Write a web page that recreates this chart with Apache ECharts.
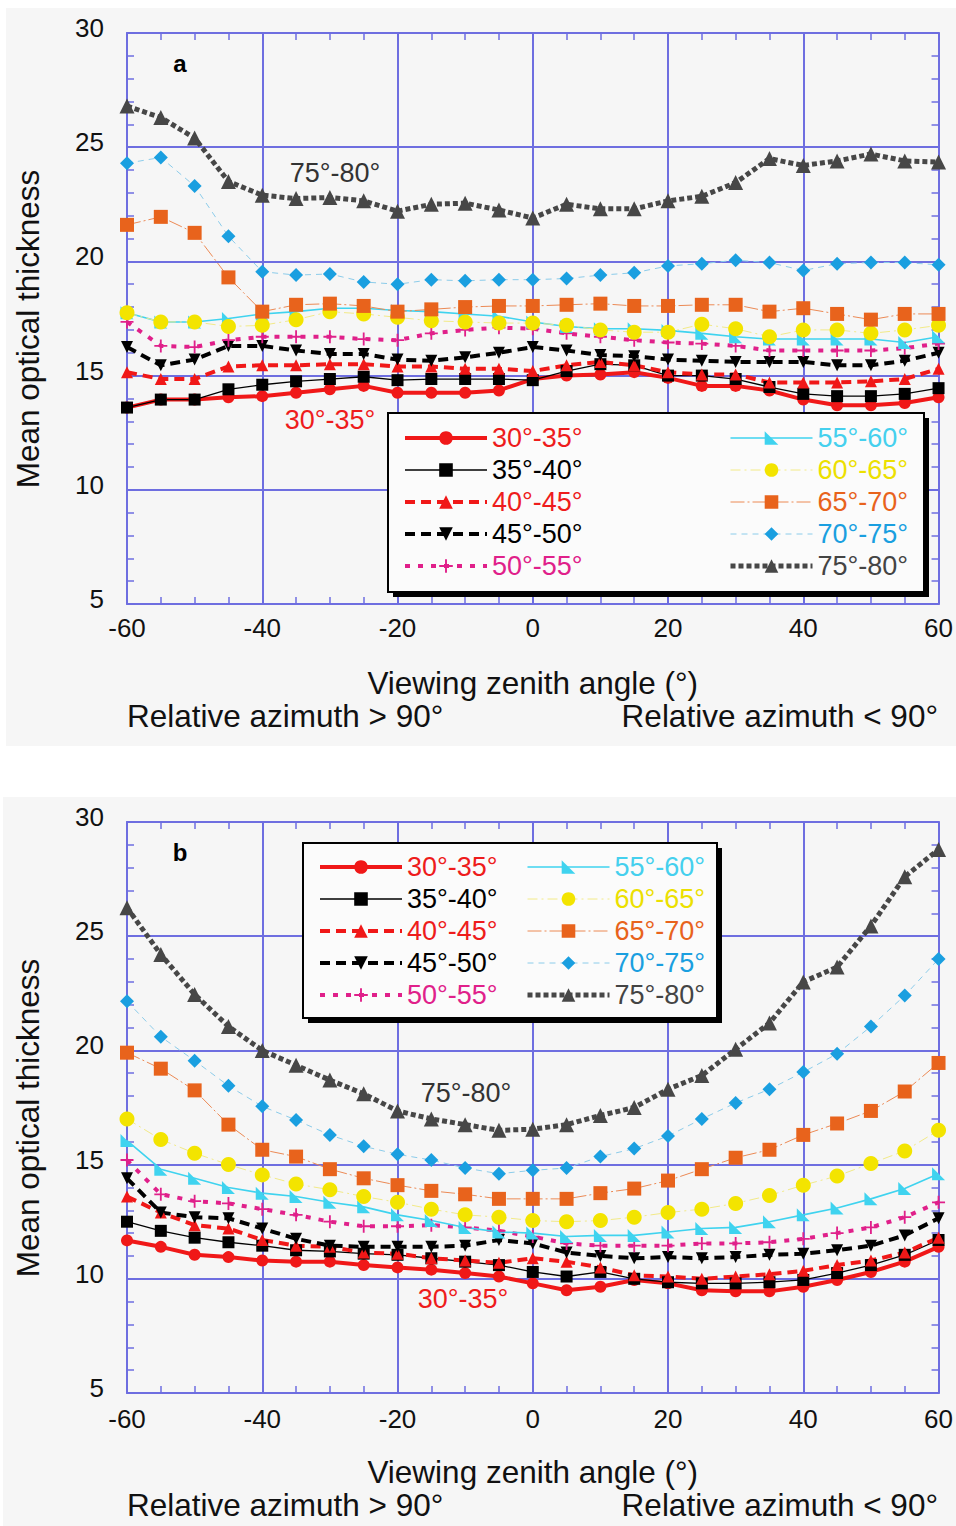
<!DOCTYPE html>
<html>
<head>
<meta charset="utf-8">
<script src="https://cdn.jsdelivr.net/npm/echarts@6/dist/echarts.min.js"></script>
<style>
  html, body { margin: 0; padding: 0; background: #ffffff; }
  #chart { width: 956px; height: 1526px; }
</style>
</head>
<body>
<div id="chart"></div>
<script>
// Viewing zenith angle, negative = relative azimuth > 90°, positive = < 90°
const angles = [-60, -55, -50, -45, -40, -35, -30, -25, -20, -15, -10, -5, 0,
                5, 10, 15, 20, 25, 30, 35, 40, 45, 50, 55, 60];

// Solar zenith angle classes
const bandNames = ['30°-35°', '35°-40°', '40°-45°', '45°-50°', '50°-55°',
                   '55°-60°', '60°-65°', '65°-70°', '70°-75°', '75°-80°'];

// Axis ticks
const xTicks = [-60, -40, -20, 0, 20, 40, 60];
const yTicks = [5, 10, 15, 20, 25, 30];

// Panel a: mean optical thickness per class
const a30 = [13.6, 13.95, 13.95, 14.05, 14.1, 14.25, 14.4, 14.55, 14.25, 14.25, 14.25, 14.35, 14.85,
             15.0, 15.05, 15.15, 14.9, 14.55, 14.55, 14.35, 13.95, 13.7, 13.7, 13.8, 14.05];
const a35 = [13.6, 13.95, 13.95, 14.4, 14.6, 14.75, 14.85, 14.95, 14.8, 14.85, 14.85, 14.85, 14.8,
             15.2, 15.5, 15.45, 15.0, 15.0, 14.85, 14.5, 14.2, 14.1, 14.1, 14.2, 14.45];
const a40 = [15.15, 14.85, 14.85, 15.4, 15.45, 15.45, 15.5, 15.5, 15.4, 15.4, 15.3, 15.3, 15.2,
             15.45, 15.6, 15.45, 15.15, 15.05, 15.05, 14.7, 14.7, 14.7, 14.75, 14.85, 15.3];
const a45 = [16.25, 15.45, 15.7, 16.3, 16.3, 16.1, 15.95, 15.95, 15.7, 15.65, 15.8, 16.0, 16.25,
             16.1, 15.9, 15.85, 15.7, 15.65, 15.6, 15.6, 15.6, 15.45, 15.45, 15.65, 16.0];
const a50 = [17.35, 16.3, 16.25, 16.55, 16.7, 16.7, 16.7, 16.6, 16.55, 16.85, 17.0, 17.1, 17.05,
             16.85, 16.7, 16.55, 16.45, 16.4, 16.3, 16.1, 16.1, 16.1, 16.1, 16.2, 16.4];
const a55 = [17.75, 17.35, 17.35, 17.5, 17.7, 17.8, 17.95, 17.95, 17.85, 17.8, 17.7, 17.6, 17.35,
             17.15, 17.05, 17.05, 16.98, 16.85, 16.7, 16.6, 16.6, 16.6, 16.6, 16.45, 16.7];
const a60 = [17.75, 17.35, 17.35, 17.15, 17.2, 17.45, 17.8, 17.7, 17.55, 17.4, 17.35, 17.3, 17.3,
             17.2, 17.0, 16.9, 16.9, 17.25, 17.05, 16.7, 17.0, 17.0, 16.85, 17.0, 17.2];
const a65 = [21.6, 21.95, 21.25, 19.3, 17.8, 18.1, 18.15, 18.05, 17.8, 17.9, 18.0, 18.05, 18.05,
             18.1, 18.15, 18.05, 18.05, 18.1, 18.1, 17.8, 17.95, 17.7, 17.45, 17.7, 17.7];
const a70 = [24.3, 24.55, 23.3, 21.1, 19.55, 19.4, 19.45, 19.1, 19.0, 19.2, 19.15, 19.2, 19.2,
             19.25, 19.4, 19.5, 19.8, 19.9, 20.05, 19.95, 19.6, 19.9, 19.95, 19.95, 19.85];
const a75 = [26.8, 26.3, 25.4, 23.5, 22.9, 22.75, 22.8, 22.65, 22.2, 22.5, 22.55, 22.25, 21.9,
             22.5, 22.3, 22.3, 22.65, 22.85, 23.45, 24.5, 24.2, 24.4, 24.7, 24.4, 24.35];

// Panel b: mean optical thickness per class
const b30 = [11.68, 11.4, 11.05, 10.95, 10.8, 10.75, 10.75, 10.6, 10.5, 10.4, 10.25, 10.1, 9.8,
             9.5, 9.65, 9.95, 9.8, 9.5, 9.45, 9.45, 9.65, 9.95, 10.3, 10.75, 11.4];
const b35 = [12.5, 12.1, 11.8, 11.6, 11.45, 11.25, 11.2, 11.1, 11.05, 10.9, 10.75, 10.6, 10.3,
             10.1, 10.3, 10.0, 9.85, 9.8, 9.8, 9.85, 9.95, 10.25, 10.6, 11.05, 11.7];
const b40 = [13.6, 12.9, 12.35, 12.2, 11.7, 11.45, 11.4, 11.15, 11.1, 10.9, 10.8, 10.7, 10.9,
             10.75, 10.5, 10.15, 10.1, 10.0, 10.1, 10.2, 10.35, 10.6, 10.8, 11.15, 11.8];
const b45 = [14.4, 12.9, 12.7, 12.65, 12.2, 11.75, 11.45, 11.4, 11.4, 11.4, 11.45, 11.7, 11.55,
             11.15, 11.0, 10.9, 10.95, 10.9, 10.95, 11.05, 11.1, 11.25, 11.45, 11.9, 12.65];
const b50 = [15.2, 13.7, 13.4, 13.3, 13.05, 12.8, 12.5, 12.3, 12.3, 12.35, 12.25, 12.1, 11.85,
             11.55, 11.45, 11.45, 11.45, 11.55, 11.55, 11.6, 11.75, 12.0, 12.25, 12.7, 13.35];
const b55 = [16.05, 14.8, 14.4, 14.0, 13.75, 13.6, 13.35, 13.15, 12.8, 12.55, 12.25, 12.05, 12.0,
             11.85, 11.9, 11.9, 12.05, 12.2, 12.25, 12.5, 12.8, 13.1, 13.5, 13.95, 14.6];
const b60 = [17.0, 16.1, 15.5, 15.0, 14.55, 14.15, 13.9, 13.6, 13.35, 13.05, 12.8, 12.7, 12.55,
             12.5, 12.55, 12.7, 12.9, 13.05, 13.3, 13.65, 14.1, 14.5, 15.05, 15.6, 16.5];
const b65 = [19.9, 19.2, 18.25, 16.75, 15.65, 15.35, 14.8, 14.4, 14.1, 13.85, 13.7, 13.5, 13.5,
             13.5, 13.75, 13.95, 14.3, 14.8, 15.3, 15.65, 16.3, 16.8, 17.35, 18.2, 19.45];
const b70 = [22.15, 20.6, 19.55, 18.45, 17.55, 16.95, 16.3, 15.8, 15.45, 15.2, 14.85, 14.6, 14.75,
             14.85, 15.35, 15.7, 16.25, 17.0, 17.7, 18.3, 19.05, 19.85, 21.05, 22.4, 24.0];
const b75 = [26.25, 24.2, 22.45, 21.05, 20.0, 19.35, 18.7, 18.1, 17.35, 17.0, 16.75, 16.5, 16.55,
             16.75, 17.15, 17.5, 18.3, 18.9, 20.05, 21.2, 23.0, 23.65, 25.45, 27.6, 28.8];

const panelA = [a30, a35, a40, a45, a50, a55, a60, a65, a70, a75];
const panelB = [b30, b35, b40, b45, b50, b55, b60, b65, b70, b75];

// ---- drawing styles ----
const FONT = "'Liberation Sans', Arial, Helvetica, sans-serif";
const AXIS_COLOR = '#6e6ee0';
const PANEL_BG = '#f6f6f6';
const TITLE_SIZE = 31.5;

const plusPath = 'path://M4.3,0 H5.7 V4.3 H10 V5.7 H5.7 V10 H4.3 V5.7 H0 V4.3 H4.3 Z';
const rampPath = 'path://M0,0 L10,10 L0,10 Z';

const styles = [
  { color: '#f01818', line: '#f01818', width: 4, type: 'solid', symbol: 'circle', size: 12, text: '#ee1c1c' },
  { color: '#000000', line: '#000000', width: 1.3, type: 'solid', symbol: 'rect', size: 12, text: '#000000' },
  { color: '#f01818', line: '#f01818', width: 4, type: [10, 6], symbol: 'triangle', size: 12, text: '#ee1c1c' },
  { color: '#000000', line: '#000000', width: 4, type: [10, 6], symbol: 'triangle', rotate: 180, size: 12, text: '#000000' },
  { color: '#e0208a', line: '#e0208a', width: 4, type: [5, 8], symbol: plusPath, size: 13, text: '#e0208a' },
  { color: '#3fd3ef', line: '#3fd3ef', width: 1.6, type: 'solid', symbol: rampPath, size: 13, text: '#45d0ee' },
  { color: '#f3e400', line: '#f2ea88', width: 1, type: [10, 4, 2, 4], symbol: 'circle', size: 15, text: '#ece000' },
  { color: '#e8631c', line: '#ec8a55', width: 1, type: [14, 3, 2, 3], symbol: 'rect', size: 14, text: '#e8631c' },
  { color: '#1a9fe0', line: '#8cccea', width: 1, type: [6, 5], symbol: 'diamond', size: 14, text: '#1a9fe0' },
  { color: '#474747', line: '#474747', width: 5, type: [5, 3], symbol: 'triangle', size: 15, text: '#444444' }
];

function makeSeries(values, gridIdx) {
  return values.map(function (vals, i) {
    const s = styles[i];
    return {
      name: bandNames[i],
      type: 'line',
      xAxisIndex: gridIdx * 2,
      yAxisIndex: gridIdx * 2,
      data: angles.map(function (a, k) { return [a, vals[k]]; }),
      symbol: s.symbol,
      symbolSize: s.size,
      symbolRotate: s.rotate || 0,
      showAllSymbol: true,
      itemStyle: { color: s.color, borderWidth: 0 },
      lineStyle: { color: s.line, width: s.width, type: s.type },
      emphasis: { disabled: true },
      silent: true,
      z: 2
    };
  });
}

function xAxes(gridIdx, labelMargin) {
  const tickStyle = { color: AXIS_COLOR, width: 1.5 };
  const base = {
    type: 'value',
    gridIndex: gridIdx,
    min: xTicks[0],
    max: xTicks[xTicks.length - 1],
    interval: xTicks[1] - xTicks[0],
    axisLine: { show: true, onZero: false, lineStyle: { color: AXIS_COLOR, width: 2 } },
    axisTick: { show: true, inside: true, length: 8, lineStyle: tickStyle },
    minorTick: { show: true, splitNumber: 4, length: 7, lineStyle: tickStyle }
  };
  return [
    Object.assign({}, base, {
      position: 'bottom',
      splitLine: { show: true, lineStyle: { color: AXIS_COLOR, width: 2 } },
      axisLabel: { fontSize: 26, color: '#111', margin: labelMargin, fontFamily: FONT },
      name: 'Viewing zenith angle (°)',
      nameLocation: 'middle',
      nameGap: 63,
      nameTextStyle: { fontSize: TITLE_SIZE, color: '#111', fontFamily: FONT }
    }),
    Object.assign({}, base, {
      position: 'top',
      splitLine: { show: false },
      axisLabel: { show: false }
    })
  ];
}

function yAxes(gridIdx) {
  const tickStyle = { color: AXIS_COLOR, width: 1.5 };
  const base = {
    type: 'value',
    gridIndex: gridIdx,
    min: yTicks[0],
    max: yTicks[yTicks.length - 1],
    interval: yTicks[1] - yTicks[0],
    axisLine: { show: true, onZero: false, lineStyle: { color: AXIS_COLOR, width: 2 } },
    axisTick: { show: true, inside: true, length: 8, lineStyle: tickStyle },
    minorTick: { show: true, splitNumber: 5, length: 7, lineStyle: tickStyle }
  };
  return [
    Object.assign({}, base, {
      position: 'left',
      splitLine: { show: true, lineStyle: { color: AXIS_COLOR, width: 2 } },
      axisLabel: { fontSize: 26, color: '#111', margin: 23, fontFamily: FONT,
                   verticalAlign: 'bottom', lineHeight: 10 }
    }),
    Object.assign({}, base, {
      position: 'right',
      splitLine: { show: false },
      axisLabel: { show: false }
    })
  ];
}

function legendColumn(first, left, top) {
  return {
    show: true,
    orient: 'vertical',
    left: left,
    top: top,
    padding: 0,
    itemGap: 0,
    itemWidth: 82,
    itemHeight: 17,
    selectedMode: false,
    z: 60,
    backgroundColor: 'transparent',
    lineStyle: { width: 'inherit', type: 'inherit' },
    textStyle: { fontSize: 27, lineHeight: 32, fontFamily: FONT },
    data: bandNames.slice(first, first + 5).map(function (n, k) {
      return { name: n, textStyle: { color: styles[first + k].text } };
    })
  };
}

function legendBox(x, y, w, h) {
  return [
    { type: 'rect', z: 50, silent: true, shape: { x: x + 5, y: y + 5, width: w, height: h }, style: { fill: '#000' } },
    { type: 'rect', z: 51, silent: true, shape: { x: x, y: y, width: w, height: h },
      style: { fill: '#fbfbfb', stroke: '#000', lineWidth: 2 } }
  ];
}

function label(text, x, y, opts, rotation) {
  return {
    type: 'text', z: 55, silent: true, x: x, y: y, rotation: rotation || 0,
    style: Object.assign({
      text: text, fontSize: 27, fontFamily: FONT, fill: '#111',
      align: 'center', verticalAlign: 'middle'
    }, opts || {})
  };
}

const chart = echarts.init(document.getElementById('chart'), null, { renderer: 'svg' });

chart.setOption({
  animation: false,
  backgroundColor: '#ffffff',
  grid: [
    { left: 127, right: 15, top: 33, height: 571, containLabel: false },
    { left: 127, right: 15, top: 822, height: 571, containLabel: false }
  ],
  xAxis: xAxes(0, 11).concat(xAxes(1, 13)),
  yAxis: yAxes(0).concat(yAxes(1)),
  legend: [
    legendColumn(0, 403, 422),
    legendColumn(5, 728, 422),
    legendColumn(0, 318, 851),
    legendColumn(5, 525, 851)
  ],
  graphic: [
    { type: 'rect', z: -100, silent: true, shape: { x: 6, y: 8, width: 950, height: 738 }, style: { fill: PANEL_BG } },
    { type: 'rect', z: -100, silent: true, shape: { x: 3, y: 797, width: 953, height: 729 }, style: { fill: PANEL_BG } }
  ]
    .concat(legendBox(388, 413, 536, 179))
    .concat(legendBox(303, 843, 414, 175))
    .concat([
      label('a', 180, 63, { fontWeight: 'bold', fontSize: 24, fill: '#000' }),
      label('b', 180, 852, { fontWeight: 'bold', fontSize: 24, fill: '#000' }),
      label('75°-80°', 335, 173, { fill: '#333' }),
      label('30°-35°', 330, 420, { fill: '#ee1c1c' }),
      label('75°-80°', 466, 1093, { fill: '#333' }),
      label('30°-35°', 463, 1299, { fill: '#ee1c1c' }),
      label('Mean optical thickness', 28, 329, { fontSize: TITLE_SIZE }, Math.PI / 2),
      label('Mean optical thickness', 28, 1118, { fontSize: TITLE_SIZE }, Math.PI / 2),
      label('Relative azimuth > 90°', 127, 716, { align: 'left', fontSize: TITLE_SIZE }),
      label('Relative azimuth < 90°', 938, 716, { align: 'right', fontSize: TITLE_SIZE }),
      label('Relative azimuth > 90°', 127, 1505, { align: 'left', fontSize: TITLE_SIZE }),
      label('Relative azimuth < 90°', 938, 1505, { align: 'right', fontSize: TITLE_SIZE })
    ]),
  series: makeSeries(panelA, 0).concat(makeSeries(panelB, 1))
});
</script>
</body>
</html>
